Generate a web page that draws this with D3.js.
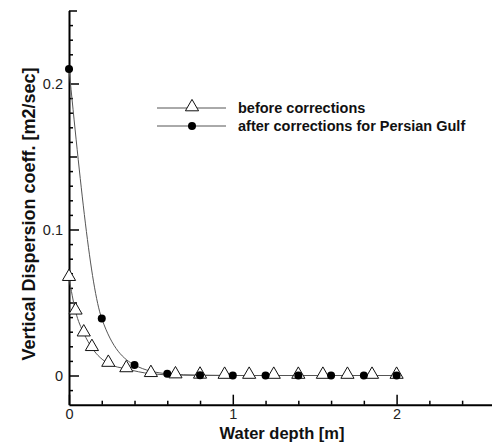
<!DOCTYPE html>
<html>
<head>
<meta charset="utf-8">
<script src="https://cdn.jsdelivr.net/npm/d3@7"></script>
<style>
	body { margin: 0; background: #fff; }
	svg { display: block; font-family: "Liberation Sans", Arial, sans-serif; }
	.axis path, .axis line { stroke: #000; }
	.axis path { stroke-width: 2; }
	.axis line { stroke-width: 1.5; }
	.axis text { font-size: 14.5px; fill: #222; }
</style>
</head>
<body>
<svg id="chart"></svg>
<script>
var depthBefore = [0, 0.04, 0.09, 0.14, 0.24, 0.35, 0.5, 0.65, 0.8, 0.95, 1.1, 1.25, 1.4, 1.55, 1.7, 1.85, 2.0];
var coeffBefore = [0.067, 0.044, 0.029, 0.019, 0.0082, 0.0045, 0.0012, 0.0003, 0.0001, 0, 0, 0, 0, 0, 0, 0, 0];
var depthAfter = [0, 0.2, 0.4, 0.6, 0.8, 1.0, 1.2, 1.4, 1.6, 1.8, 2.0];
var coeffAfter = [0.21, 0.039, 0.0072, 0.0012, 0.0002, 0, 0, 0, 0, 0, 0];
var xMajor = [0, 1, 2];
var xMinor = [0.2, 0.4, 0.6, 0.8, 1.2, 1.4, 1.6, 1.8, 2.2, 2.4];
var yMajor = [0, 0.1, 0.2];
var yMid = [0.05, 0.15, 0.25];
var yMinor = [-0.01, 0.01, 0.02, 0.03, 0.04, 0.06, 0.07, 0.08, 0.09, 0.11, 0.12, 0.13, 0.14, 0.16, 0.17, 0.18, 0.19, 0.21, 0.22, 0.23, 0.24];
var legendLabels = ["before corrections", "after corrections for Persian Gulf"];
var xTitle = "Water depth [m]";
var yTitle = "Vertical Dispersion coeff. [m2/sec]";

var W = 492, H = 444;
var x0 = 69, unitX = 163.8;
var y0 = 375.5, unitY = 1460;

var x = d3.scaleLinear().domain([0, 2.6]).range([x0, x0 + 2.6 * unitX]);
var y = d3.scaleLinear().domain([-0.02, 0.25]).range([y0 + 0.02 * unitY, y0 - 0.25 * unitY]);

var svg = d3.select("#chart").attr("width", W).attr("height", H);

var before = depthBefore.map(function(d, i) { return {x: d, y: coeffBefore[i]}; });
var after = depthAfter.map(function(d, i) { return {x: d, y: coeffAfter[i]}; });

var line = d3.line()
	.x(function(d) { return x(d.x); })
	.y(function(d) { return y(d.y); })
	.curve(d3.curveMonotoneX);

var bottom = y(-0.02);

// x axis, ticks pointing in
svg.append("g")
	.attr("class", "axis")
	.attr("transform", "translate(0," + bottom + ")")
	.call(d3.axisBottom(x).tickValues(xMinor).tickFormat("").tickSizeInner(-4).tickSizeOuter(0))
	.select(".domain").remove();
svg.append("g")
	.attr("class", "axis")
	.attr("transform", "translate(0," + bottom + ")")
	.call(d3.axisBottom(x).tickValues(xMajor).tickFormat(d3.format("d")).tickSizeInner(-10).tickSizeOuter(0).tickPadding(4));

// y axis
svg.append("g")
	.attr("class", "axis")
	.attr("transform", "translate(" + x0 + ",0)")
	.call(d3.axisLeft(y).tickValues(yMinor).tickFormat("").tickSizeInner(-4).tickSizeOuter(0))
	.select(".domain").remove();
svg.append("g")
	.attr("class", "axis")
	.attr("transform", "translate(" + x0 + ",0)")
	.call(d3.axisLeft(y).tickValues(yMid).tickFormat("").tickSizeInner(-8).tickSizeOuter(0))
	.select(".domain").remove();
svg.append("g")
	.attr("class", "axis")
	.attr("transform", "translate(" + x0 + ",0)")
	.call(d3.axisLeft(y).tickValues(yMajor).tickFormat(function(d) { return d === 0 ? "0" : d3.format(".1f")(d); }).tickSizeInner(-10).tickSizeOuter(0).tickPadding(6));

// titles
svg.append("text")
	.attr("x", 282)
	.attr("y", 438.5)
	.attr("text-anchor", "middle")
	.attr("font-weight", "bold")
	.attr("font-size", 16.5)
	.attr("fill", "#111")
	.text(xTitle);
svg.append("text")
	.attr("transform", "translate(35,214) rotate(-90)")
	.attr("text-anchor", "middle")
	.attr("font-weight", "bold")
	.attr("font-size", 18)
	.attr("fill", "#111")
	.text(yTitle);

// lines
[before, after].forEach(function(data) {
	svg.append("path")
		.datum(data)
		.attr("fill", "none")
		.attr("stroke", "#555")
		.attr("stroke-width", 1)
		.attr("d", line);
});

var tri = d3.symbol().type(d3.symbolTriangle).size(75);

function drawTriangles(g, data) {
	g.selectAll(".tri")
		.data(data)
		.enter()
		.append("path")
		.attr("class", "tri")
		.attr("transform", function(d) { return "translate(" + x(d.x) + "," + (y(d.y) - 1) + ")"; })
		.attr("d", tri)
		.attr("fill", "#fff")
		.attr("stroke", "#111")
		.attr("stroke-width", 1);
}
function drawCircles(g, data) {
	g.selectAll(".dot")
		.data(data)
		.enter()
		.append("circle")
		.attr("class", "dot")
		.attr("cx", function(d) { return x(d.x); })
		.attr("cy", function(d) { return y(d.y); })
		.attr("r", 4)
		.attr("fill", "#000");
}

drawTriangles(svg.append("g"), before);
drawCircles(svg.append("g"), after);

// legend
var legend = svg.append("g").attr("transform", "translate(157,108)");
legendLabels.forEach(function(label, i) {
	var row = legend.append("g").attr("transform", "translate(0," + (i * 18) + ")");
	row.append("line")
		.attr("x1", 0).attr("x2", 69)
		.attr("stroke", "#555").attr("stroke-width", 1);
	if (i === 0) {
		row.append("path")
			.attr("transform", "translate(35,-1)")
			.attr("d", tri)
			.attr("fill", "#fff").attr("stroke", "#111");
	} else {
		row.append("circle").attr("cx", 35).attr("r", 4).attr("fill", "#000");
	}
	row.append("text")
		.attr("x", 81)
		.attr("y", 5)
		.attr("font-weight", "bold")
		.attr("font-size", 14.5)
		.attr("fill", "#111")
		.text(label);
});
</script>
</body>
</html>
